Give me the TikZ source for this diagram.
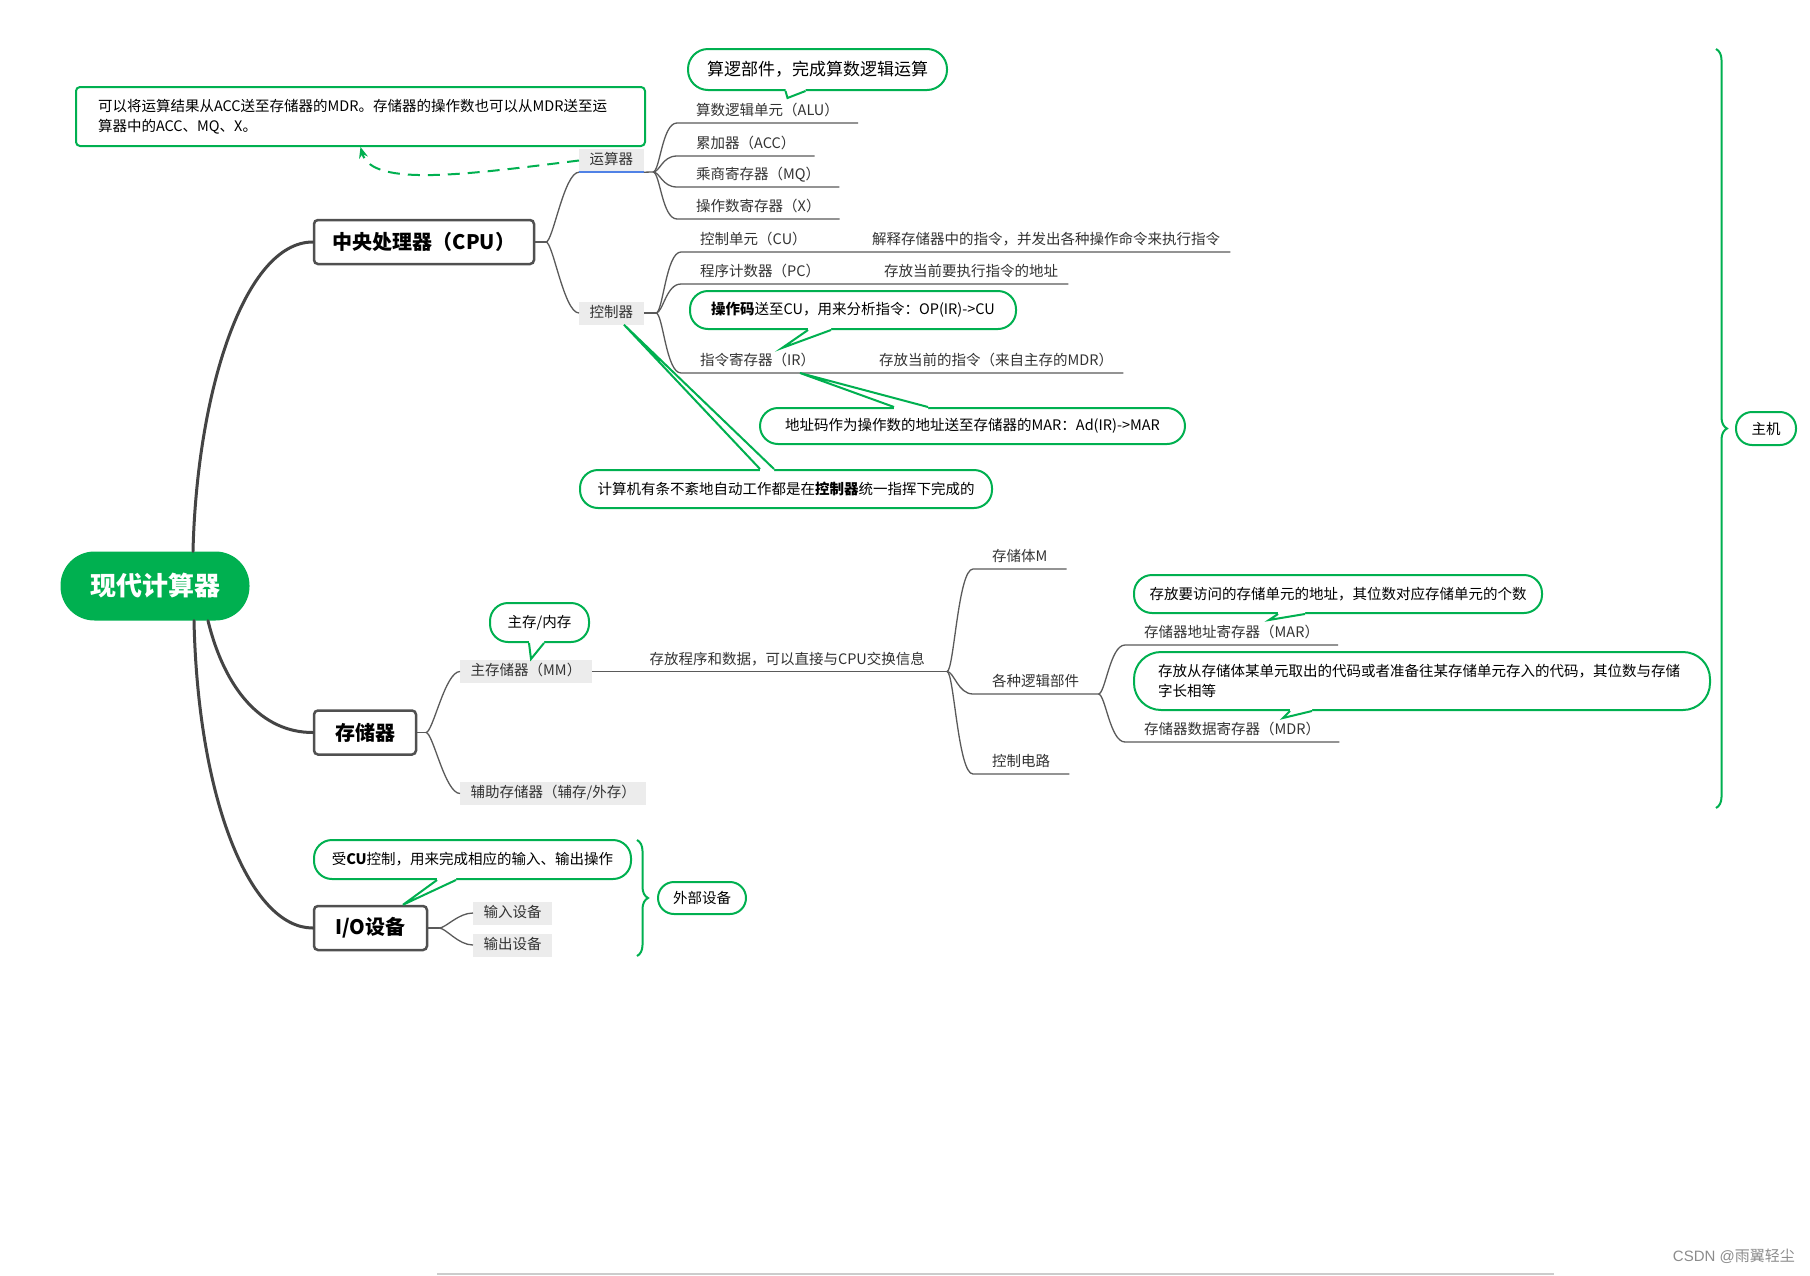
\documentclass[tikz,border=0pt]{standalone}
\usepackage{fontspec}
\setmainfont{Noto Sans CJK SC}
\newfontfamily\wmfont{Liberation Sans}
\usepackage{tikz}
\usetikzlibrary{arrows.meta,positioning,calc,decorations.pathreplacing}
\definecolor{mmgreen}{RGB}{0,176,80}
\definecolor{boxgray}{RGB}{80,80,80}
\definecolor{trunkgray}{RGB}{68,68,68}
\definecolor{linegray}{RGB}{90,90,90}
\definecolor{labelgray}{RGB}{236,236,236}
\definecolor{txtgray}{RGB}{51,51,51}
\definecolor{selblue}{RGB}{80,130,230}
\newcommand{\leaffont}{\fontsize{14.5}{20}\selectfont}
% tail of a callout: base start, base end, tip, shift into the callout
\newcommand{\notetail}[4]{%
  \fill[white] ($#1+#4$) -- ($#1$) -- ($#3$) -- ($#2$) -- ($#2+#4$) -- cycle;
  \draw[tailline] ($#1$) -- ($#3$) -- ($#2$);}

\begin{document}
\begin{tikzpicture}[x=1pt, y=-1pt,
  root/.style={fill=mmgreen, text=white, rounded corners=34, minimum width=189,
               minimum height=69, font=\fontsize{26}{30}\selectfont\bfseries},
  topic/.style={draw=boxgray, line width=2.5, rounded corners=4, fill=white,
                font=\fontsize{20}{24}\selectfont\bfseries, inner sep=0, minimum height=44},
  sub/.style={fill=labelgray, text=txtgray, font=\leaffont, inner xsep=10.5, inner ysep=0,
              minimum height=23, text height=11, text depth=3, anchor=west},
  leaf/.style={text=txtgray, font=\leaffont, inner xsep=19, inner ysep=4,
               text height=12, text depth=3.5, anchor=south west},
  desc/.style={leaf, inner xsep=10},
  note/.style={draw=mmgreen, line width=2, fill=white, text=black, font=\leaffont,
               rounded corners=18, inner sep=0},
  tailline/.style={draw=mmgreen, line width=2, line join=miter},
  brc/.style={draw=mmgreen, line width=2, decorate, decoration={brace, amplitude=11pt}},
  conn/.style={draw=linegray, line width=1.3},
  trunk/.style={draw=trunkgray, line width=3, line cap=round},
  br/.style={to path={.. controls ([xshift=7pt]\tikztostart) and ([xshift=-15pt]\tikztotarget) .. (\tikztotarget)}}
]
  \useasboundingbox (0,0) rectangle (1810,1275);
  \fill[white] (0,0) rectangle (1810,1275);

  % main topics
  \node[root] (root) at (155,586) {现代计算器};
  \node[topic, minimum width=220] (cpu) at (424,242) {中央处理器（CPU）};
  \node[topic, minimum width=102] (mem) at (365,732.5) {存储器};
  \node[topic, minimum width=113] (io) at (370.5,928) {I/O设备};

  \draw[trunk] ($(root.north)+(38,0)$) .. controls (197,390) and (245,242) .. (cpu.west);
  \draw[trunk] ($(root.south)+(53,0)$) .. controls (225,690) and (262,732.5) .. (mem.west);
  \draw[trunk] ($(root.south)+(39,0)$) .. controls (198,800) and (250,928) .. (io.west);

  % CPU
  \coordinate (cpu-b) at (546,242);
  \node[sub] (ys) at (579,160.5) {运算器};
  \node[sub] (kz) at (579,313) {控制器};
  \draw[conn] (cpu.east) -- (cpu-b);
  \draw[conn] (cpu-b) to[br] (ys.south west);
  \draw[conn] (cpu-b) to[br] (kz.west);
  \draw[selblue, line width=1.5] (ys.south west) -- (ys.south east);

  \coordinate (ys-b) at (653,172);
  \draw[conn] (ys.south east) -- (ys-b);
  \node[leaf] (alu) at (677,123) {算数逻辑单元（ALU）};
  \node[leaf] (acc) at (677,156) {累加器（ACC）};
  \node[leaf] (mq) at (677,187) {乘商寄存器（MQ）};
  \node[leaf] (xr) at (677,219) {操作数寄存器（X）};
  \draw[conn] (ys-b) to[br] (alu.south west) -- (alu.south east);
  \draw[conn] (ys-b) to[br] (acc.south west) -- (acc.south east);
  \draw[conn] (ys-b) to[br] (mq.south west) -- (mq.south east);
  \draw[conn] (ys-b) to[br] (xr.south west) -- (xr.south east);

  \node[note, font=\fontsize{17}{20}\selectfont, minimum width=259, minimum height=41,
        rounded corners=20] (yn) at (817.5,69.5) {算逻部件，完成算数逻辑运算};
  \notetail{(yn.south)+(-32,0)}{(yn.south)+(-12,0)}{(yn.south)+(-30,7)}{(0,-3)}

  \node[note, rounded corners=4, minimum width=569, minimum height=59, text width=525,
        align=left] (accn) at (360.5,116.5)
        {可以将运算结果从ACC送至存储器的MDR。存储器的操作数也可以从MDR送至运\\算器中的ACC、MQ、X。};
  \draw[mmgreen, line width=2, dash pattern=on 12pt off 8pt,
        -{Stealth[length=11pt, width=9pt]}]
        (ys.west) .. controls (470,174) and (372,188) .. (accn.south);

  \coordinate (kz-b) at (656,313);
  \draw[conn] (kz.east) -- (kz-b);
  \node[leaf] (cu) at (681,252) {控制单元（CU）};
  \node[desc] (cu-d) at (862,252) {解释存储器中的指令，并发出各种操作命令来执行指令};
  \node[leaf] (pc) at (681,284) {程序计数器（PC）};
  \node[desc] (pc-d) at (874,284) {存放当前要执行指令的地址};
  \node[leaf] (ir) at (681,373) {指令寄存器（IR）};
  \node[desc] (ir-d) at (869,373) {存放当前的指令（来自主存的MDR）};
  \draw[conn] (kz-b) to[br] (cu.south west) -- (cu-d.south east);
  \draw[conn] (kz-b) to[br] (pc.south west) -- (pc-d.south east);
  \draw[conn] (kz-b) to[br] (ir.south west) -- (ir-d.south east);

  \node[note, minimum width=326, minimum height=38] (op) at (853,310)
        {\textbf{操作码}送至CU，用来分析指令：OP(IR)->CU};
  \notetail{(op.south)+(-45,0)}{(op.south)+(-22,0)}{(op.south)+(-71,18)}{(0,-3)}

  \node[note, minimum width=425, minimum height=36] (ad) at (972.5,426)
        {地址码作为操作数的地址送至存储器的MAR：Ad(IR)->MAR};
  \notetail{(ad.north)+(-78.5,0)}{(ad.north)+(-44.5,0)}{(ad.north)+(-172.5,-34)}{(0,3)}

  \node[note, minimum width=412, minimum height=38] (jsj) at (786,489)
        {计算机有条不紊地自动工作都是在\textbf{控制器}统一指挥下完成的};
  \notetail{(jsj.north)+(-26,0)}{(jsj.north)+(-12,0)}{(kz.south)+(12.5,0)}{(0,3)}

  % memory
  \coordinate (mem-b) at (426,732.5);
  \node[sub] (mm) at (460,671.5) {主存储器（MM）};
  \node[sub] (fz) at (460,793.5) {辅助存储器（辅存/外存）};
  \draw[conn] (mem.east) -- (mem-b);
  \draw[conn] (mem-b) to[br] (mm.west);
  \draw[conn] (mem-b) to[br] (fz.west);

  \node[note, minimum width=99, minimum height=39] (zc) at (539.5,622.5) {主存/内存};
  \notetail{(zc.south)+(-10.5,0)}{(zc.south)+(4.5,0)}{(zc.south)+(-8.5,16)}{(0,-3)}

  \coordinate (mm-b) at (947,671.5);
  \draw[conn] (mm.east) -- node[pos=0.55, above=3pt, font=\leaffont, text=txtgray, inner sep=0,
        text height=12, text depth=3.5] (mm-t) {存放程序和数据，可以直接与CPU交换信息} (mm-b);

  \node[leaf] (ct) at (973,569) {存储体M};
  \node[leaf] (lj) at (973,694) {各种逻辑部件};
  \node[leaf] (dl) at (973,774) {控制电路};
  \draw[conn] (mm-b) to[br] (ct.south west) -- (ct.south east);
  \draw[conn] (mm-b) to[br] (lj.south west) -- (lj.south east);
  \draw[conn] (mm-b) to[br] (dl.south west) -- (dl.south east);

  \node[leaf] (mar) at (1125,645) {存储器地址寄存器（MAR）};
  \node[leaf] (mdr) at (1125,742) {存储器数据寄存器（MDR）};
  \draw[conn] (lj.south east) to[br] (mar.south west) -- (mar.south east);
  \draw[conn] (lj.south east) to[br] (mdr.south west) -- (mdr.south east);

  \node[note, minimum width=408, minimum height=38] (marn) at (1338,594)
        {存放要访问的存储单元的地址，其位数对应存储单元的个数};
  \notetail{(marn.south)+(-60,0)}{(marn.south)+(-33,0)}{(marn.south)+(-69,6)}{(0,-3)}

  \node[note, minimum width=576, minimum height=58, rounded corners=27, text width=528,
        align=left] (mdrn) at (1422,681)
        {存放从存储体某单元取出的代码或者准备往某存储单元存入的代码，其位数与存储\\字长相等};
  \notetail{(mdrn.south)+(-132,0)}{(mdrn.south)+(-110,0)}{(mdrn.south)+(-139,7)}{(0,-3)}

  % I/O
  \coordinate (io-b) at (439,928);
  \node[sub] (sr) at (473,913) {输入设备};
  \node[sub] (sc) at (473,945) {输出设备};
  \draw[conn] (io.east) -- (io-b);
  \draw[conn] (io-b) to[br] (sr.west);
  \draw[conn] (io-b) to[br] (sc.west);

  \node[note, minimum width=317, minimum height=39] (ion) at (472.5,859.5)
        {受\textbf{CU}控制，用来完成相应的输入、输出操作};
  \notetail{(ion.south)+(-35.5,0)}{(ion.south)+(-16.5,0)}{(io.north)+(32.5,0)}{(0,-3)}

  % braces
  \coordinate (wb-t) at (637,840);
  \coordinate (wb-b) at (637,956);
  \draw[brc] (wb-t) -- (wb-b);
  \node[note, minimum width=88, minimum height=32, rounded corners=16] (wb) at (702,898) {外部设备};

  \coordinate (zj-t) at (1716,49);
  \coordinate (zj-b) at (1716,808);
  \draw[brc] (zj-t) -- (zj-b);
  \node[note, minimum width=60, minimum height=33, rounded corners=16] (zj) at (1766,428.5) {主机};

  % footer
  \node[anchor=east, font=\fontsize{15}{18}\selectfont, text=black!45, inner sep=0] (wm)
        at (1795,1256) {{\wmfont CSDN @}雨翼轻尘};
  \draw[black!20, line width=2] (437,1274) -- (1554,1274);
\end{tikzpicture}
\end{document}
